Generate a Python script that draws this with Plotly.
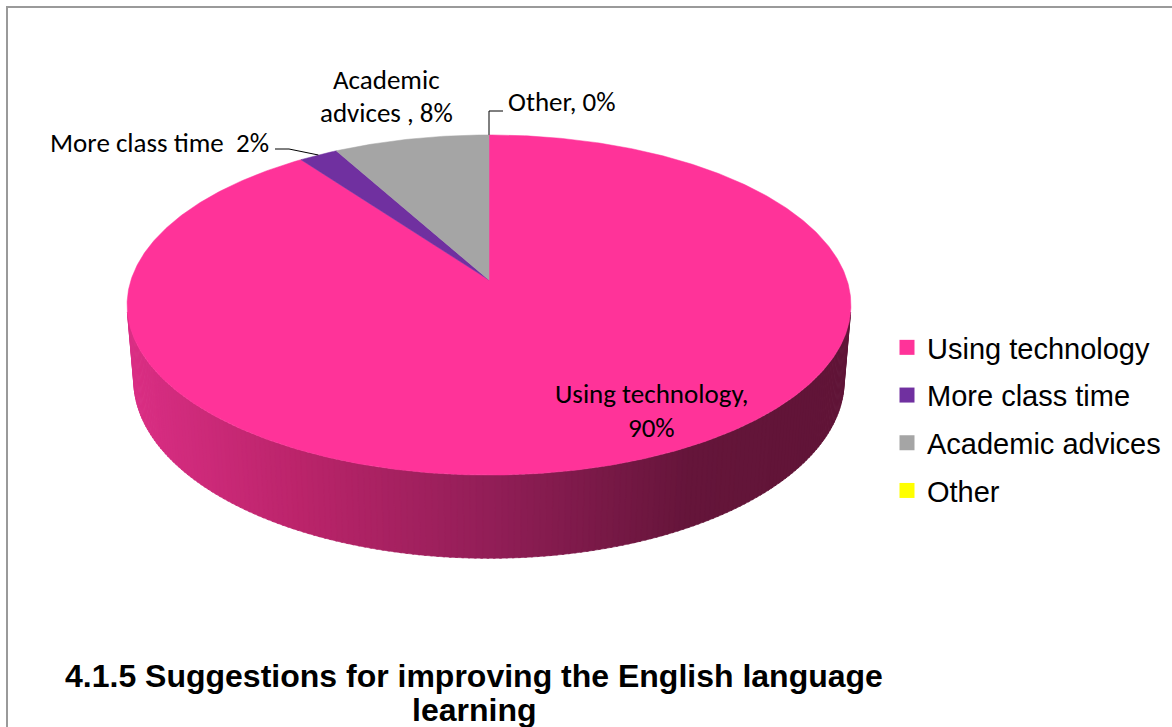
import numpy as np
import plotly.graph_objects as go

# ---- data -------------------------------------------------------------
categories = ["Using technology", "More class time", "Academic advices", "Other"]
shares = [90, 2, 8, 0]  # percent of respondents
slice_colors = ["#FF3399", "#7030A0", "#A5A5A5", "#FFFF00"]
label_lines = [
    ["Using technology,", "90%"],
    ["More class time  2%"],
    ["Academic", "advices , 8%"],
    ["Other, 0%"],
]
title_lines = ["4.1.5 Suggestions for improving the English language", "learning"]

# ---- canvas / projection settings --------------------------------------
W, H = 1172, 727
CX, CY = 489, 280          # screen position of the disc centre
K = 358                    # disc radius in pixels
ELEV = np.radians(27.7)    # camera elevation
DIST = 6.02                # camera distance (in radii), gives the perspective
THICK = 0.24               # disc thickness (in radii)

LABEL_FONT = "Carlito, Lato, sans-serif"
LEGEND_FONT = "Liberation Sans, Arial, sans-serif"

# side shading: screen x -> rgb
side_stops = [
    (127, (218, 46, 132)),
    (300, (186, 36, 106)),
    (489, (146, 30, 87)),
    (690, (101, 21, 58)),
    (851, (96, 20, 55)),
]


def project(theta_deg, z=0.0):
    """Point on the disc rim (theta clockwise from the far side) to pixels."""
    t = np.radians(theta_deg)
    x, y = np.sin(t), np.cos(t)
    se, ce = np.sin(ELEV), np.cos(ELEV)
    up = y * se + z * ce
    dep = y * ce - z * se
    s = DIST / (DIST + dep)
    return CX + K * x * s, CY - K * up * s


def side_color(px):
    xs = [p for p, _ in side_stops]
    rgb = [np.interp(px, xs, [c[i] for _, c in side_stops]) for i in range(3)]
    return "rgb({:.0f},{:.0f},{:.0f})".format(*rgb)


fig = go.Figure()

# ---- visible rim of the disc (front half, shaded) -----------------------
lim = np.degrees(np.arccos(-1.0 / (DIST * np.cos(ELEV))))
edges = np.linspace(lim, 360 - lim, 181)
for a0, a1 in zip(edges[:-1], edges[1:]):
    a1e = min(a1 + 0.3, 360 - lim)
    tx0, ty0 = project(a0, 0)
    tx1, ty1 = project(a1e, 0)
    bx1, by1 = project(a1e, -THICK)
    bx0, by0 = project(a0, -THICK)
    col = side_color((tx0 + tx1) / 2)
    fig.add_trace(go.Scatter(
        x=[tx0, tx1, bx1, bx0, tx0], y=[ty0, ty1, by1, by0, ty0],
        mode="lines", fill="toself", fillcolor=col,
        line=dict(color=col, width=0.6),
        hoverinfo="skip", showlegend=False,
    ))

# ---- top face wedges ---------------------------------------------------
total = float(sum(shares))
start = 0.0
wedge_angles = []
for cat, val, col in zip(categories, shares, slice_colors):
    span = 360.0 * val / total
    wedge_angles.append((start, start + span))
    if span > 0:
        n = max(int(span * 2), 4)
        th = np.linspace(start, start + span, n)
        px, py = project(th, 0)
        xs = [CX] + list(px) + [CX]
        ys = [CY] + list(py) + [CY]
        fig.add_trace(go.Scatter(
            x=xs, y=ys, mode="lines", fill="toself", fillcolor=col,
            line=dict(color=col, width=0.5),
            name=cat, hoverinfo="name", showlegend=False,
        ))
    start += span

# ---- legend entries ----------------------------------------------------
for cat, col in zip(categories, slice_colors):
    fig.add_trace(go.Scatter(
        x=[None], y=[None], mode="markers", name=cat, legendgroup=cat,
        marker=dict(symbol="square", size=15, color=col),
    ))

# ---- data labels and leader lines --------------------------------------
ann = []
lab = dict(showarrow=False, xref="x", yref="y",
           font=dict(family=LABEL_FONT, size=27, color="#000000"))

# Using technology
for i, line in enumerate(label_lines[0]):
    ann.append(dict(lab, text=line, x=651, y=393 + 34 * i, xanchor="center", yanchor="middle"))
# More class time
ann.append(dict(lab, text=label_lines[1][0], x=271, y=142, xanchor="right", yanchor="middle"))
# Academic advices
for i, line in enumerate(label_lines[2]):
    ann.append(dict(lab, text=line, x=386, y=79 + 33 * i, xanchor="center", yanchor="middle"))
# Other
ann.append(dict(lab, text=label_lines[3][0], x=506, y=101, xanchor="left", yanchor="middle"))

line_style = dict(color="#000000", width=1)
shapes = []
a0, a1 = wedge_angles[1]
mx, my = project((a0 + a1) / 2, 0)
shapes.append(dict(type="path", xref="x", yref="y",
                   path=f"M {mx:.1f},{my:.1f} L 289,149 L 275,149", line=line_style))
ox, oy = project(wedge_angles[3][0], 0)
shapes.append(dict(type="path", xref="x", yref="y",
                   path=f"M {ox:.1f},{oy:.1f} L {ox:.1f},111 L 503,111", line=line_style))

# chart-area border
shapes.append(dict(type="rect", xref="x", yref="y", x0=7, y0=7, x1=W + 10, y1=H + 10,
                   line=dict(color="#9A9A9A", width=2), fillcolor="rgba(0,0,0,0)",
                   layer="below"))

# title (two lines, under the chart)
for i, line in enumerate(title_lines):
    ann.append(dict(showarrow=False, xref="x", yref="y", text=f"<b>{line}</b>",
                    x=474, y=676 + 34 * i, xanchor="center", yanchor="middle",
                    font=dict(family=LEGEND_FONT, size=32, color="#000000")))

fig.update_layout(
    width=W, height=H,
    margin=dict(l=0, r=0, t=0, b=0, pad=0),
    paper_bgcolor="white", plot_bgcolor="white",
    xaxis=dict(range=[0, W], visible=False, fixedrange=True),
    yaxis=dict(range=[H, 0], visible=False, fixedrange=True),
    annotations=ann, shapes=shapes,
    showlegend=True,
    legend=dict(x=887 / W, xanchor="left", y=1 - 419 / H, yanchor="middle",
                font=dict(family=LEGEND_FONT, size=29, color="#000000"),
                bgcolor="rgba(0,0,0,0)", tracegroupgap=7, itemclick=False),
)

fig.write_html("out.html")
